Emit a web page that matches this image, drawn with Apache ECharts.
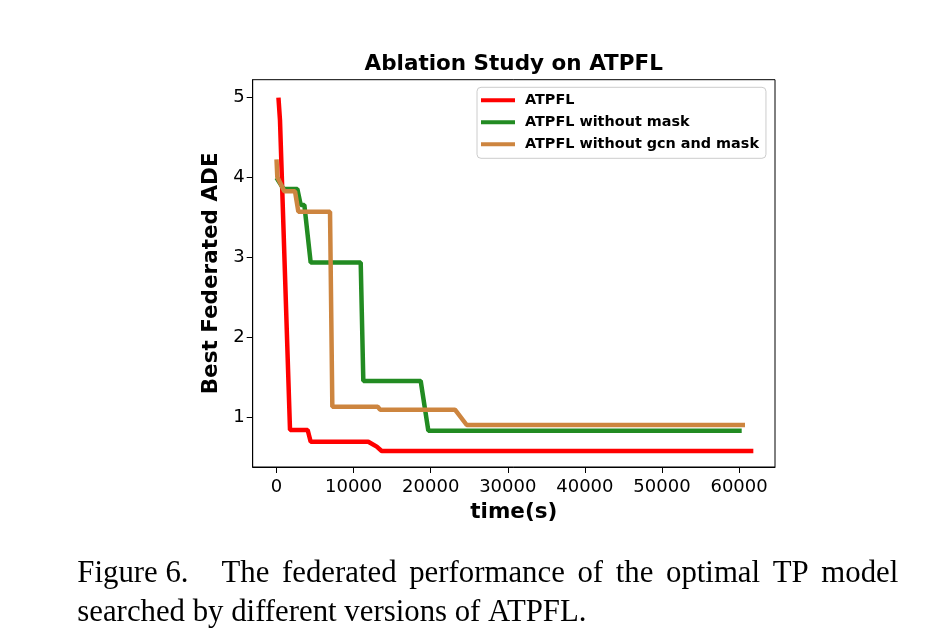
<!DOCTYPE html>
<html>
<head>
<meta charset="utf-8">
<script src="https://cdn.jsdelivr.net/npm/echarts@6/dist/echarts.min.js"></script>
<style>
  html, body { margin: 0; padding: 0; background: #fff; }
  #chart { width: 950px; height: 644px; }
</style>
</head>
<body>
<div id="chart"></div>
<script>
// ---- Data ----
const seriesNames = ['ATPFL', 'ATPFL without mask', 'ATPFL without gcn and mask'];

const atpflTime = [250, 450, 1750, 4040, 4430, 11900, 13000, 13640, 61850];
const atpflAde  = [5.0, 4.72, 0.846, 0.846, 0.70, 0.70, 0.638, 0.584, 0.584];

const noMaskTime = [0, 900, 2700, 3140, 3610, 4430, 10920, 11260, 18700, 19690, 60340];
const noMaskAde  = [4.0, 3.86, 3.86, 3.66, 3.66, 2.94, 2.94, 1.46, 1.46, 0.838, 0.838];

const noGcnTime = [0, 100, 1010, 2400, 2830, 6940, 7240, 13120, 13430, 23150, 24670, 60770];
const noGcnAde  = [4.23, 4.01, 3.83, 3.83, 3.575, 3.575, 1.1375, 1.1375, 1.10, 1.10, 0.909, 0.909];

const xTicks = [0, 10000, 20000, 30000, 40000, 50000, 60000];
const yTicks = [1, 2, 3, 4, 5];

const titleText = 'Ablation Study on ATPFL';
const xName = 'time(s)';
const yName = 'Best Federated ADE';
const captionLine1Words = ['Figure', '6.', 'The', 'federated', 'performance', 'of', 'the', 'optimal', 'TP', 'model'];
const captionLine2 = 'searched by different versions of ATPFL.';

// ---- helpers ----
function pairs(xs, ys) { return xs.map((x, i) => [x, ys[i]]); }

const captionFont = '30.8px "Liberation Serif", "Times New Roman", serif';
const captionLeft = 77.3, captionRight = 898.3;

// justify caption line 1 (LaTeX-like): "Figure~6." natural space, wide gap after "6.", equal gaps elsewhere
const measureCtx = document.createElement('canvas').getContext('2d');
measureCtx.font = captionFont;
const wordW = captionLine1Words.map(w => measureCtx.measureText(w).width);
const spaceW = measureCtx.measureText(' ').width;
const afterLabelGap = 33;
const totalWords = wordW.reduce((a, b) => a + b, 0);
const evenGap = (captionRight - captionLeft - totalWords - spaceW - afterLabelGap) / (captionLine1Words.length - 3);
const wordX = [];
let cx = captionLeft;
captionLine1Words.forEach((w, i) => {
  wordX.push(cx);
  const gap = i === 0 ? spaceW : (i === 1 ? afterLabelGap : evenGap);
  cx += wordW[i] + gap;
});

const graphics = [
  {
    type: 'text', x: 513.7, y: 64.5, silent: true,
    style: { text: titleText, font: 'bold 21.5px "DejaVu Sans"', fill: '#000', align: 'center', verticalAlign: 'middle' }
  }
];
captionLine1Words.forEach((w, i) => {
  graphics.push({
    type: 'text', x: wordX[i], y: 574, silent: true,
    style: { text: w, font: captionFont, fill: '#000', align: 'left', verticalAlign: 'middle' }
  });
});
graphics.push({
  type: 'text', x: captionLeft, y: 612.7, silent: true,
  style: { text: captionLine2, font: captionFont, fill: '#000', align: 'left', verticalAlign: 'middle' }
});

const chart = echarts.init(document.getElementById('chart'), null, { renderer: 'canvas' });
const colors = ['#ff0000', '#228b22', '#cd853f'];
const plainNum = v => String(v);

chart.setOption({
  animation: false,
  backgroundColor: '#ffffff',
  graphic: graphics,
  grid: {
    left: 252.7, top: 79.7, width: 522.3, height: 387.3,
    show: true, borderColor: '#000', borderWidth: 1, backgroundColor: 'transparent'
  },
  legend: {
    orient: 'vertical',
    left: 477, top: 87.3,
    data: seriesNames,
    icon: 'rect',
    itemWidth: 34, itemHeight: 4,
    itemGap: 6,
    padding: [5, 7, 6, 4],
    backgroundColor: '#ffffff',
    borderColor: '#cccccc', borderWidth: 1, borderRadius: 4,
    textStyle: { fontFamily: 'DejaVu Sans', fontWeight: 'bold', fontSize: 14.4, color: '#000', lineHeight: 16, padding: [0, 0, 0, 5] }
  },
  xAxis: {
    type: 'value',
    min: -3090, max: 64660,
    name: xName, nameLocation: 'middle', nameGap: 34,
    nameTextStyle: { fontFamily: 'DejaVu Sans', fontWeight: 'bold', fontSize: 21.5, color: '#000' },
    axisLine: { show: true, onZero: false, lineStyle: { color: '#000', width: 1 } },
    axisTick: { show: true, inside: false, length: 6, lineStyle: { color: '#000', width: 1 }, customValues: xTicks },
    axisLabel: { show: true, margin: 11.5, fontFamily: 'DejaVu Sans', fontSize: 18, color: '#000', customValues: xTicks, formatter: plainNum },
    splitLine: { show: false }
  },
  yAxis: {
    type: 'value',
    min: 0.384, max: 5.225,
    name: yName, nameLocation: 'middle', nameGap: 30, nameRotate: 90,
    nameTextStyle: { fontFamily: 'DejaVu Sans', fontWeight: 'bold', fontSize: 21.5, color: '#000' },
    axisLine: { show: true, onZero: false, lineStyle: { color: '#000', width: 1 } },
    axisTick: { show: true, inside: false, length: 6, lineStyle: { color: '#000', width: 1 }, customValues: yTicks },
    axisLabel: { show: true, margin: 8, fontFamily: 'DejaVu Sans', fontSize: 18, color: '#000', customValues: yTicks, formatter: plainNum },
    splitLine: { show: false }
  },
  series: [
    { name: seriesNames[0], type: 'line', data: pairs(atpflTime, atpflAde), symbol: 'none', showSymbol: false, color: colors[0], lineStyle: { width: 4.5, color: colors[0] } },
    { name: seriesNames[1], type: 'line', data: pairs(noMaskTime, noMaskAde), symbol: 'none', showSymbol: false, color: colors[1], lineStyle: { width: 4.5, color: colors[1] } },
    { name: seriesNames[2], type: 'line', data: pairs(noGcnTime, noGcnAde), symbol: 'none', showSymbol: false, color: colors[2], lineStyle: { width: 4.5, color: colors[2] } }
  ]
});
</script>
</body>
</html>
